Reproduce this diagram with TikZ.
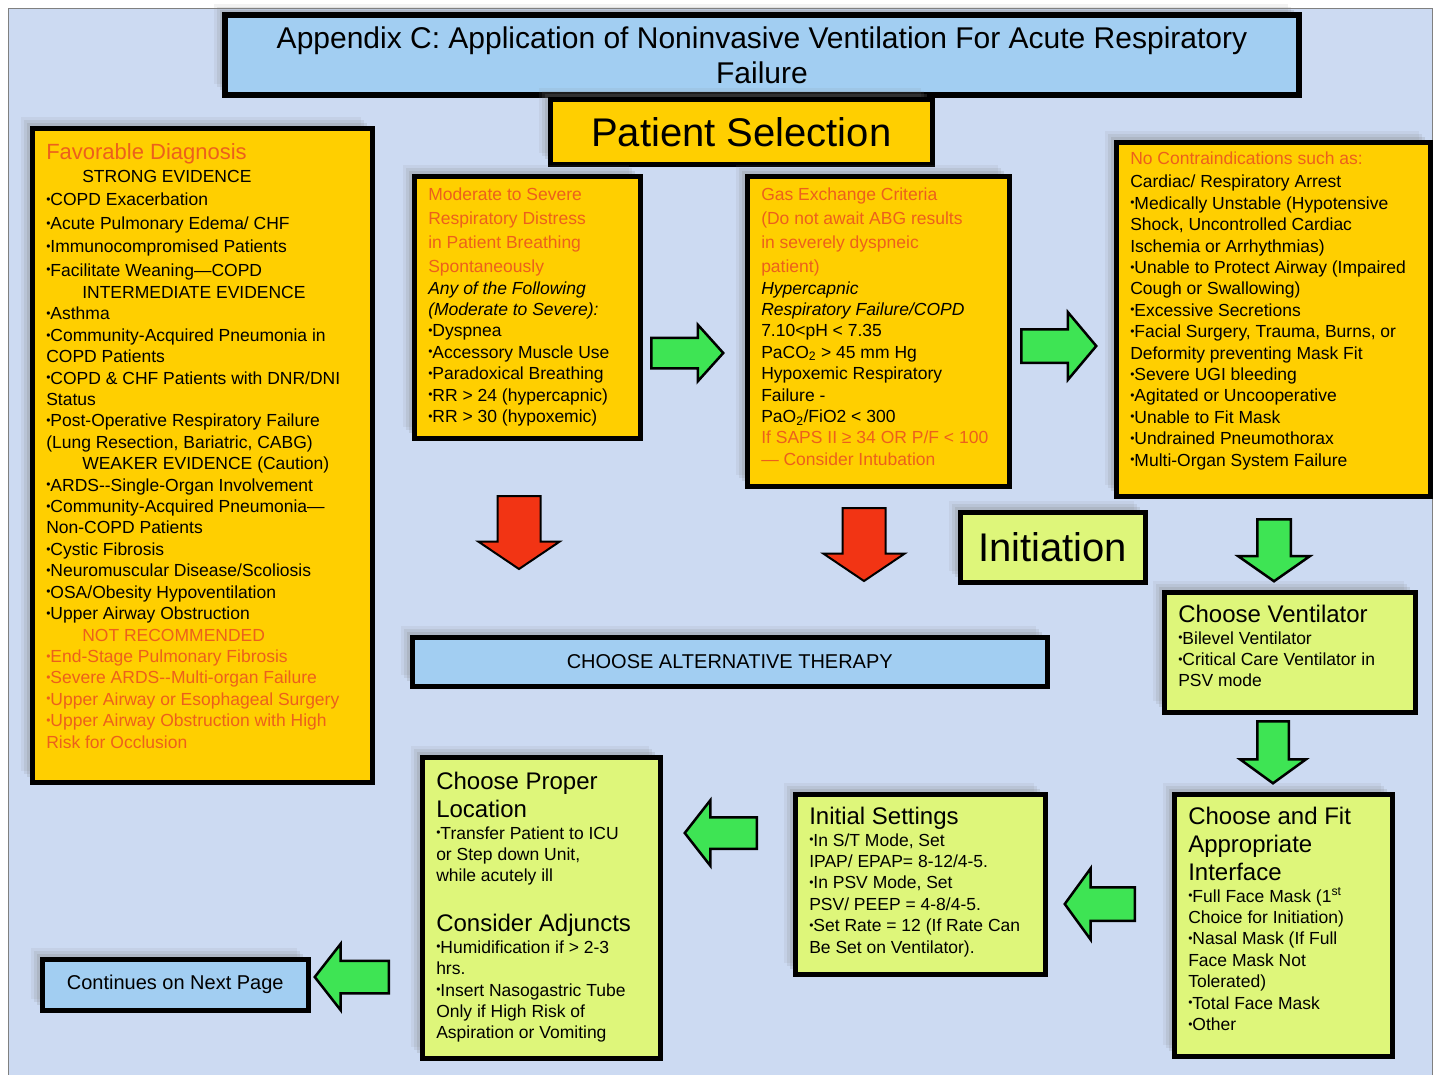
\documentclass[tikz,border=0pt]{standalone}
\usepackage{fontspec}
\setmainfont{Liberation Sans}
\usetikzlibrary{shapes.arrows,shadows}

\definecolor{bgblue}{RGB}{204,218,242}
\definecolor{boxyellow}{RGB}{255,207,0}
\definecolor{boxgreen}{RGB}{222,246,122}
\definecolor{boxblue}{RGB}{162,206,242}
\definecolor{txtorange}{RGB}{236,96,28}
\definecolor{arrgreen}{RGB}{62,228,84}
\definecolor{arrred}{RGB}{242,52,20}

\newcommand{\bl}{\raisebox{.25ex}{\fontsize{12}{12}\selectfont•}}
\newcommand{\bodyfont}{\fontsize{17.5}{21.4}\selectfont}
\newcommand{\headfont}{\fontsize{24}{28}\selectfont}
\newcommand{\hd}[1]{{\headfont #1\par}}
% text block of a card: width and height of the card in pt (for inner ysep=15pt)
\newcommand{\boxtext}[3]{\makebox[\dimexpr#1pt-28pt\relax][l]{\parbox[c][\dimexpr#2pt-30pt\relax][t]{\dimexpr#1pt+12pt\relax}{\raggedright\bodyfont #3}}}

\tikzset{
  card/.style={draw=black, line width=4.5pt, anchor=north west, inner xsep=14pt, inner ysep=15pt,
    drop shadow={shadow xshift=-11pt, shadow yshift=11pt, opacity=.1},
    drop shadow={shadow xshift=-8pt, shadow yshift=8pt, opacity=.15},
    drop shadow={shadow xshift=-5pt, shadow yshift=5pt, opacity=.2}},
  yellowcard/.style={card, fill=boxyellow},
  greencard/.style={card, fill=boxgreen},
  bluecard/.style={card, fill=boxblue, inner sep=0pt, align=center},
  fatarrow/.style={single arrow, draw=black, line width=2.5pt, anchor=tail, single arrow tip angle=100},
}

\begin{document}
\begin{tikzpicture}[x=1pt, y=-1pt]
  \useasboundingbox (0,0) rectangle (1437,1074);
  \fill[white] (0,0) rectangle (1437,1074);
  \draw[gray, line width=1pt, fill=bgblue] (8,8) rectangle (1432,1080);

  % headings
  \node[bluecard, line width=6pt, minimum width=1074pt, minimum height=80pt,
    font=\fontsize{30}{35}\selectfont] (title) at (222,12)
    {Appendix C: Application of Noninvasive Ventilation For Acute Respiratory\\Failure};
  \node[yellowcard, inner sep=0pt, minimum width=382pt, minimum height=65pt,
    font=\fontsize{40}{42}\selectfont] (patsel) at (548,97) {Patient Selection};
  \node[greencard, inner sep=0pt, minimum width=185pt, minimum height=70pt,
    font=\fontsize{40}{42}\selectfont] (init) at (958,510) {Initiation};

  % patient selection
  \node[yellowcard] (fav) at (30,126) {\boxtext{340}{654}{%
    {\fontsize{22}{26}\selectfont\color{txtorange}Favorable Diagnosis}\\[2pt]
    \hspace*{36pt}STRONG EVIDENCE\\[2pt]
    \bl COPD Exacerbation\\[2pt]
    \bl Acute Pulmonary Edema/ CHF\\[2pt]
    \bl Immunocompromised Patients\\[2pt]
    \bl Facilitate Weaning—COPD\\[1pt]
    \hspace*{36pt}INTERMEDIATE EVIDENCE\\
    \bl Asthma\\
    \bl Community-Acquired Pneumonia in\\
    COPD Patients\\
    \bl COPD \& CHF Patients with DNR/DNI\\
    Status\\
    \bl Post-Operative Respiratory Failure\\
    (Lung Resection, Bariatric, CABG)\\
    \hspace*{36pt}WEAKER EVIDENCE (Caution)\\
    \bl ARDS-{}-Single-Organ Involvement\\
    \bl Community-Acquired Pneumonia—\\
    Non-COPD Patients\\
    \bl Cystic Fibrosis\\
    \bl Neuromuscular Disease/Scoliosis\\
    \bl OSA/Obesity Hypoventilation\\
    \bl Upper Airway Obstruction\\
    {\color{txtorange}\hspace*{36pt}NOT RECOMMENDED\\
    \bl End-Stage Pulmonary Fibrosis\\
    \bl Severe ARDS-{}-Multi-organ Failure\\
    \bl Upper Airway or Esophageal Surgery\\
    \bl Upper Airway Obstruction with High\\
    Risk for Occlusion}}};

  \node[yellowcard, inner ysep=12pt] (distress) at (412,174) {\boxtext{226}{268}{%
    {\color{txtorange}Moderate to Severe\\[2.5pt]
    Respiratory Distress\\[2.5pt]
    in Patient Breathing\\[2.5pt]
    Spontaneously}\\
    \textit{Any of the Following}\\
    \textit{(Moderate to Severe):}\\
    \bl Dyspnea\\
    \bl Accessory Muscle Use\\
    \bl Paradoxical Breathing\\
    \bl RR > 24 (hypercapnic)\\
    \bl RR > 30 (hypoxemic)}};

  \node[yellowcard, inner ysep=12pt] (gas) at (745,174) {\boxtext{262}{316}{%
    {\color{txtorange}Gas Exchange Criteria\\[2.5pt]
    (Do not await ABG results\\[2.5pt]
    in severely dyspneic\\[2.5pt]
    patient)}\\
    \textit{Hypercapnic}\\
    \textit{Respiratory Failure/COPD}\\
    7.10<pH < 7.35\\
    PaCO\textsubscript{2} > 45 mm Hg\\
    Hypoxemic Respiratory\\
    Failure -\\
    PaO\textsubscript{2}/FiO2 < 300\\
    {\color{txtorange}If SAPS II ≥ 34 OR P/F < 100\\
    — Consider Intubation}}};

  \node[yellowcard, inner ysep=10pt] (contra) at (1114,140) {\boxtext{314}{364}{%
    {\color{txtorange}No Contraindications such as:}\\[1.5pt]
    Cardiac/ Respiratory Arrest\\
    \bl Medically Unstable (Hypotensive\\
    Shock, Uncontrolled Cardiac\\
    Ischemia or Arrhythmias)\\
    \bl Unable to Protect Airway (Impaired\\
    Cough or Swallowing)\\
    \bl Excessive Secretions\\
    \bl Facial Surgery, Trauma, Burns, or\\
    Deformity preventing Mask Fit\\
    \bl Severe UGI bleeding\\
    \bl Agitated or Uncooperative\\
    \bl Unable to Fit Mask\\
    \bl Undrained Pneumothorax\\
    \bl Multi-Organ System Failure}};

  \node[bluecard, minimum width=635pt, minimum height=49pt,
    font=\fontsize{20}{22}\selectfont] (alt) at (410,635) {CHOOSE ALTERNATIVE THERAPY};

  % initiation
  \node[greencard, inner ysep=13pt] (vent) at (1162,590) {\boxtext{251}{124}{%
    \hd{Choose Ventilator}
    \bl Bilevel Ventilator\\
    \bl Critical Care Ventilator in\\
    PSV mode}};

  \node[greencard, inner ysep=13pt] (mask) at (1172,792) {\boxtext{218}{266}{%
    \hd{Choose and Fit\\Appropriate\\Interface}
    \bl Full Face Mask (1\textsuperscript{st}\\
    Choice for Initiation)\\
    \bl Nasal Mask (If Full\\
    Face Mask Not\\
    Tolerated)\\
    \bl Total Face Mask\\
    \bl Other}};

  \node[greencard, inner ysep=13pt] (settings) at (793,792) {\boxtext{250}{184}{%
    \hd{Initial Settings}
    \bl In S/T Mode, Set\\
    IPAP/ EPAP= 8-12/4-5.\\
    \bl In PSV Mode, Set\\
    PSV/ PEEP = 4-8/4-5.\\
    \bl Set Rate = 12 (If Rate Can\\
    Be Set on Ventilator).}};

  \node[greencard] (location) at (420,755) {\boxtext{238}{301}{%
    \hd{Choose Proper\\Location}
    \bl Transfer Patient to ICU\\
    or Step down Unit,\\
    while acutely ill\par
    \vspace{22pt}
    \hd{Consider Adjuncts}
    \bl Humidification if > 2-3\\
    hrs.\\
    \bl Insert Nasogastric Tube\\
    Only if High Risk of\\
    Aspiration or Vomiting}};

  \node[bluecard, minimum width=266pt, minimum height=51pt,
    font=\fontsize{20}{22}\selectfont] (next) at (40,957) {Continues on Next Page};

  % block arrows
  \node[fatarrow, fill=arrgreen, inner sep=14pt, minimum height=72pt,
    single arrow head extend=13pt, single arrow tip angle=96] (go1) at (650,353) {};
  \node[fatarrow, fill=arrgreen, inner sep=15.5pt, minimum height=75pt,
    single arrow head extend=17pt] (go2) at (1020,346) {};
  \node[fatarrow, fill=arrred, line width=2pt, inner sep=20.5pt, minimum height=73pt,
    single arrow head extend=19pt, single arrow tip angle=112, shape border rotate=270] (stop1) at (519,495) {};
  \node[fatarrow, fill=arrred, line width=2pt, inner sep=20.5pt, minimum height=73pt,
    single arrow head extend=19pt, single arrow tip angle=112, shape border rotate=270] (stop2) at (864,507) {};
  \node[fatarrow, fill=arrgreen, inner sep=15.5pt, minimum height=62pt,
    single arrow head extend=19pt, single arrow tip angle=110, shape border rotate=270] (go3) at (1274,518) {};
  \node[fatarrow, fill=arrgreen, inner sep=14.5pt, minimum height=62pt,
    single arrow head extend=17pt, single arrow tip angle=108, shape border rotate=270] (go4) at (1273,720) {};
  \node[fatarrow, fill=arrgreen, inner sep=15.5pt, minimum height=70pt,
    single arrow head extend=19pt, single arrow tip angle=108, shape border rotate=180] (go5) at (1136,904) {};
  \node[fatarrow, fill=arrgreen, inner sep=14.5pt, minimum height=72pt,
    single arrow head extend=17pt, single arrow tip angle=104, shape border rotate=180] (go6) at (758,833) {};
  \node[fatarrow, fill=arrgreen, inner sep=15pt, minimum height=74pt,
    single arrow head extend=17pt, single arrow tip angle=104, shape border rotate=180] (go7) at (390,977) {};
\end{tikzpicture}
\end{document}
